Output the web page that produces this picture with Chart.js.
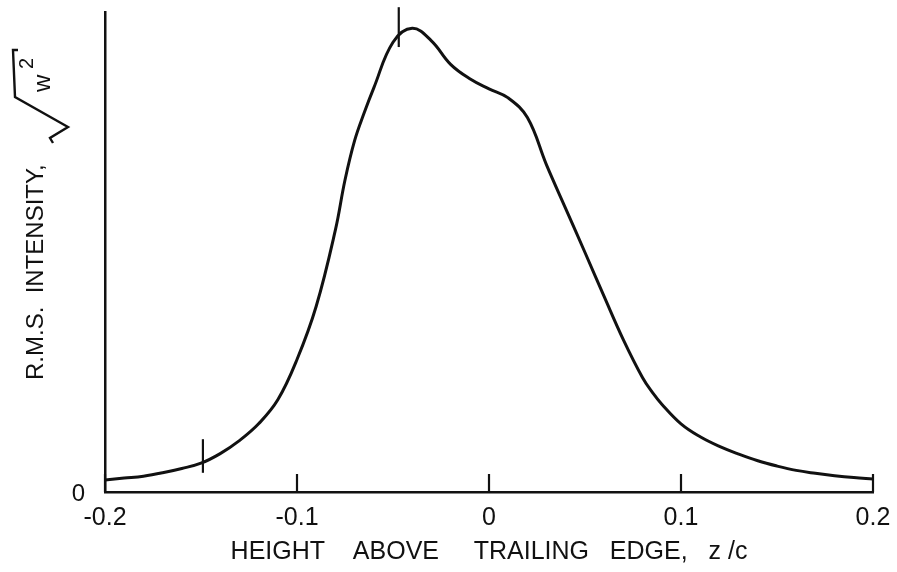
<!DOCTYPE html>
<html>
<head>
<meta charset="utf-8">
<script src="https://cdn.jsdelivr.net/npm/chart.js@4.4.1/dist/chart.umd.min.js"></script>
<style>
  html, body { margin: 0; padding: 0; background: #fff; }
  #wrap { width: 897px; height: 572px; }
</style>
</head>
<body>
<div id="wrap"><canvas id="c" width="897" height="572"></canvas></div>
<script>
// Height above trailing edge, z/c
const zValues = [
  -0.20, -0.19, -0.18, -0.17, -0.16, -0.15, -0.14, -0.13, -0.12, -0.11,
  -0.10, -0.09, -0.08, -0.075, -0.07, -0.065, -0.06, -0.05, -0.04, -0.03,
  -0.02, -0.01, 0.00, 0.01, 0.02, 0.03, 0.04, 0.05, 0.06, 0.07,
  0.08, 0.085, 0.09, 0.10, 0.11, 0.12, 0.13, 0.14, 0.15, 0.16,
  0.17, 0.18, 0.19, 0.20
];
// R.M.S. intensity (arbitrary units, axis top = 100)
const rmsValues = [
  2.5, 2.9, 3.3, 4.0, 4.9, 6.0, 8.0, 10.7, 14.2, 19.2,
  27.6, 38.7, 54.6, 65.0, 73.2, 79.0, 84.2, 93.7, 96.6, 94.0,
  89.1, 86.1, 84.0, 82.1, 78.0, 68.1, 59.0, 49.9, 40.7, 31.7,
  23.8, 20.8, 18.3, 14.2, 11.5, 9.5, 7.9, 6.5, 5.4, 4.5,
  3.9, 3.4, 3.0, 2.7
];
// Short vertical reference marks crossing the curve
const markLowZ = [-0.149, -0.149];
const markLowRms = [4.0, 11.0];
const markPeakZ = [-0.047, -0.047];
const markPeakRms = [92.7, 101.0];

const xTickValues = [-0.2, -0.1, 0, 0.1, 0.2];
const xTickLabels = ['-0.2', '-0.1', '0', '0.1', '0.2'];
const yTickValues = [0];
const yTickLabels = ['0'];
const xTitle = 'HEIGHT    ABOVE     TRAILING   EDGE,   z /c';
const yTitle = 'R.M.S.  INTENSITY,';

const INK = '#111';
const FONT = '"Liberation Sans", Arial, sans-serif';

const toPoints = (xs, ys) => xs.map((x, i) => ({ x: x, y: ys[i] }));

// Tick marks standing up from the horizontal axis
const upTicks = {
  id: 'upTicks',
  afterDatasetsDraw(chart) {
    const ctx = chart.ctx;
    const xs = chart.scales.x;
    const y0 = chart.chartArea.bottom;
    ctx.save();
    ctx.strokeStyle = INK;
    ctx.lineWidth = 2.2;
    xTickValues.forEach(v => {
      const px = xs.getPixelForValue(v);
      ctx.beginPath();
      ctx.moveTo(px, y0);
      ctx.lineTo(px, y0 - 18);
      ctx.stroke();
    });
    ctx.restore();
  }
};

// Vertical axis caption with the radical over w squared
const yCaption = {
  id: 'yCaption',
  afterDraw(chart) {
    const ctx = chart.ctx;
    ctx.save();
    ctx.translate(43, 380);
    ctx.rotate(-Math.PI / 2);
    ctx.fillStyle = INK;
    ctx.textAlign = 'left';
    ctx.textBaseline = 'alphabetic';
    ctx.font = '24px ' + FONT;
    ctx.fillText(yTitle, 0, 0);
    ctx.fillText('w', 288, 7);
    ctx.font = '20px ' + FONT;
    ctx.fillText('2', 311, -10);
    ctx.strokeStyle = INK;
    ctx.lineWidth = 2.4;
    ctx.lineJoin = 'miter';
    ctx.beginPath();
    ctx.moveTo(237, 10);
    ctx.lineTo(242, 7);
    ctx.lineTo(253, 25);
    ctx.lineTo(283, -28);
    ctx.lineTo(330, -30);
    ctx.lineTo(330, -25);
    ctx.stroke();
    ctx.restore();
  }
};

new Chart(document.getElementById('c'), {
  type: 'line',
  data: {
    datasets: [
      {
        data: toPoints(zValues, rmsValues),
        borderColor: INK,
        borderWidth: 3,
        pointRadius: 0,
        tension: 0.4,
        fill: false
      },
      {
        data: toPoints(markLowZ, markLowRms),
        borderColor: INK,
        borderWidth: 2.2,
        pointRadius: 0,
        clip: false
      },
      {
        data: toPoints(markPeakZ, markPeakRms),
        borderColor: INK,
        borderWidth: 2.2,
        pointRadius: 0,
        clip: false
      }
    ]
  },
  options: {
    responsive: false,
    animation: false,
    devicePixelRatio: 1,
    layout: { padding: { top: 12, right: 24, bottom: 0, left: 0 } },
    plugins: {
      legend: { display: false },
      tooltip: { enabled: false }
    },
    scales: {
      x: {
        type: 'linear',
        min: -0.2,
        max: 0.2,
        afterBuildTicks(scale) { scale.ticks = xTickValues.map(v => ({ value: v })); },
        afterFit(scale) {
          scale.height = 80;
          scale.paddingLeft = 0;
          scale.paddingRight = 0;
        },
        grid: { display: false, drawTicks: false },
        border: { display: true, color: INK, width: 2.5 },
        ticks: {
          color: INK,
          font: { family: FONT, size: 25 },
          padding: 11,
          maxRotation: 0,
          autoSkip: false,
          callback: (v, i) => xTickLabels[i]
        },
        title: {
          display: true,
          text: xTitle,
          color: INK,
          font: { family: FONT, size: 25 },
          padding: { top: 0, bottom: 5 }
        }
      },
      y: {
        type: 'linear',
        min: 0,
        max: 100,
        afterBuildTicks(scale) { scale.ticks = yTickValues.map(v => ({ value: v })); },
        afterFit(scale) {
          scale.width = 105;
          scale.paddingTop = 0;
          scale.paddingBottom = 0;
        },
        grid: { display: false, drawTicks: false },
        border: { display: true, color: INK, width: 2.5 },
        ticks: {
          color: INK,
          font: { family: FONT, size: 24 },
          padding: 20,
          labelOffset: 2,
          callback: (v, i) => yTickLabels[i]
        }
      }
    }
  },
  plugins: [upTicks, yCaption]
});
</script>
</body>
</html>
